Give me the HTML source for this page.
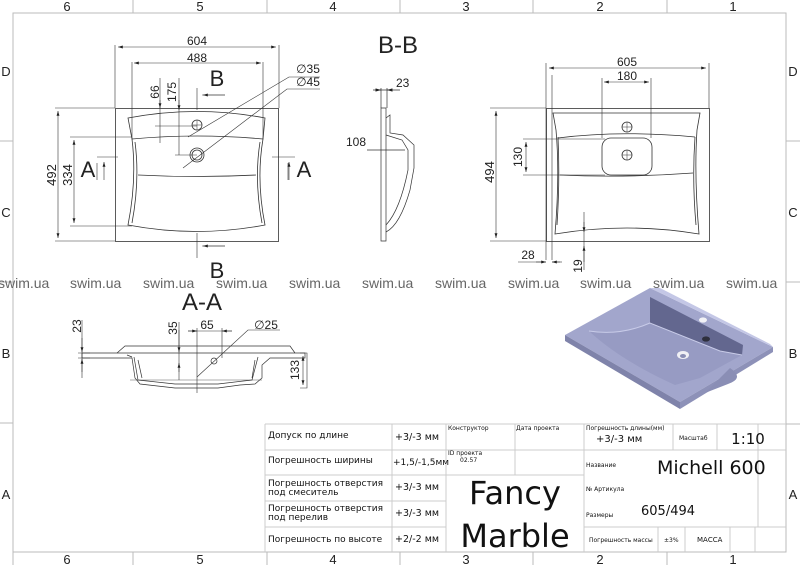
<!DOCTYPE html>
<html><head><meta charset="utf-8"><style>
html,body{margin:0;padding:0;background:#fff;width:800px;height:565px;overflow:hidden}
svg{display:block}
text{font-family:"Liberation Sans","DejaVu Sans",sans-serif;fill:#222}
.t{font-family:"DejaVu Sans","Liberation Sans",sans-serif;fill:#111}
</style></head><body>
<svg width="800" height="565" viewBox="0 0 800 565" xmlns="http://www.w3.org/2000/svg">
<defs>
<marker id="a" viewBox="0 0 10 6" refX="10" refY="3" markerWidth="8" markerHeight="5" orient="auto-start-reverse"><path d="M0,0L10,3L0,6z" fill="#222"/></marker>
</defs>
<g stroke="#bbb" stroke-width="1" fill="none">
<path d="M13,565V13H786V552H13"/>
<path d="M133,0V13M267,0V13M400,0V13M533,0V13M667,0V13"/>
<path d="M133,552V565M267,552V565M400,552V565M533,552V565M667,552V565"/>
<path d="M0,141H13M0,282H13M0,423H13M786,141H800M786,282H800M786,424H800"/>
</g>
<g font-size="13" text-anchor="middle">
<text x="67" y="11">6</text><text x="200" y="11">5</text><text x="333" y="11">4</text><text x="466" y="11">3</text><text x="600" y="11">2</text><text x="733" y="11">1</text>
<text x="67" y="564">6</text><text x="200" y="564">5</text><text x="333" y="564">4</text><text x="466" y="564">3</text><text x="600" y="564">2</text><text x="733" y="564">1</text>
<text x="6" y="76">D</text><text x="6" y="217">C</text><text x="6" y="358">B</text><text x="6" y="499">A</text>
<text x="793" y="76">D</text><text x="793" y="217">C</text><text x="793" y="358">B</text><text x="793" y="499">A</text>
</g>
<g font-size="14" style="fill:#666">
<text x="-2" y="288" style="fill:#666">swim.ua</text><text x="70" y="288" style="fill:#666">swim.ua</text><text x="143" y="288" style="fill:#666">swim.ua</text><text x="216" y="288" style="fill:#666">swim.ua</text><text x="289" y="288" style="fill:#666">swim.ua</text><text x="362" y="288" style="fill:#666">swim.ua</text><text x="435" y="288" style="fill:#666">swim.ua</text><text x="508" y="288" style="fill:#666">swim.ua</text><text x="580" y="288" style="fill:#666">swim.ua</text><text x="653" y="288" style="fill:#666">swim.ua</text><text x="726" y="288" style="fill:#666">swim.ua</text>
</g>

<!-- TOP VIEW -->
<g stroke="#333" stroke-width="0.8" fill="none">
<rect x="115.5" y="108.5" width="163" height="133"/>
<path d="M128,118 Q197,105 265,118 L263,139 Q197,133 132,139 Z"/>
<path d="M132,139 Q137,180 128,225 Q197,238 265,225 Q256,180 263,139"/>
<path d="M135,142 Q140,180 132,223 M260,142 Q254,180 262,223"/>
<path d="M138,175 Q197,178 256,175"/>
<circle cx="197" cy="125" r="5"/><path d="M192,125h10M197,120v10" stroke-width="0.5"/>
<circle cx="197" cy="155" r="7"/><circle cx="197" cy="155" r="5"/>
</g>
<g stroke="#333" stroke-width="0.6" fill="none">
<path d="M115,45V108M279,45V108M132,62V139M263,62V139"/>
<path d="M118,47H276" marker-start="url(#a)" marker-end="url(#a)"/>
<path d="M134,63H261" marker-start="url(#a)" marker-end="url(#a)"/>
<path d="M55,108H115M55,241H115M70,137H132M70,226H132"/>
<path d="M58,111V238" marker-start="url(#a)" marker-end="url(#a)"/>
<path d="M74,140V223" marker-start="url(#a)" marker-end="url(#a)"/>
<path d="M160,78V143M179,78V155M155,126H197M175,155H197"/>
<path d="M160,100V108" marker-end="url(#a)"/><path d="M179,100V110" marker-end="url(#a)"/>
<path d="M188,137L289,77H320M183,168L287,89H320"/>
<path d="M197,88V110M197,233V258M202,95H225M202,246H225"/>
<path d="M225,95H203" marker-end="url(#a)"/><path d="M225,246H203" marker-end="url(#a)"/>
<path d="M97,163V180M288,163V180M97,157H118M272,157H295" />
<path d="M104,180V162" marker-end="url(#a)"/><path d="M289,180V162" marker-end="url(#a)"/>
</g>
<g font-size="12" text-anchor="middle">
<text x="197" y="45">604</text><text x="197" y="62">488</text>
<text x="159" y="92" transform="rotate(-90 159 92)">66</text>
<text x="176" y="92" transform="rotate(-90 176 92)">175</text>
<text x="56" y="175" transform="rotate(-90 56 175)" font-size="13">492</text>
<text x="72" y="175" transform="rotate(-90 72 175)" font-size="13">334</text>
<text x="308" y="73">∅35</text><text x="308" y="86">∅45</text>
</g>
<g font-size="22" text-anchor="middle">
<text x="217" y="86">B</text><text x="217" y="278">B</text>
<text x="88" y="177">A</text><text x="304" y="177">A</text>
<text x="398" y="53" font-size="24">B-B</text>
<text x="202" y="310" font-size="24">A-A</text>
</g>

<!-- B-B section -->
<g stroke="#333" stroke-width="0.7" fill="none">
<path d="M381,108V241H386V108Z"/>
<path d="M386,118L390,115V133L403,135L414,145V168L410,190Q400,225 386,232"/>
<path d="M386,135L402,140L408,150V170Q400,210 386,225"/>
<path d="M373,90H400M381,88V108M387,88V108"/>
<path d="M367,150H405"/>
<path d="M377,90H381" marker-end="url(#a)"/><path d="M392,90H387" marker-end="url(#a)"/>
</g>
<g font-size="12"><text x="396" y="87">23</text><text x="346" y="146">108</text></g>

<!-- RIGHT VIEW -->
<g stroke="#333" stroke-width="0.8" fill="none">
<rect x="546.5" y="108.5" width="163" height="133"/>
<path d="M553,113H700L697,130Q694,175 699,234Q627,222 555,234Q560,175 556,130Z"/>
<path d="M558,137Q560,180 557,225M695,137Q692,180 696,225"/>
<path d="M558,138Q620,130 695,137"/>
<path d="M560,175Q625,178 693,173"/>
<rect x="602" y="138" width="50" height="37" rx="9"/>
<circle cx="627" cy="127" r="5"/><path d="M622,127h10M627,122v10" stroke-width="0.5"/>
<circle cx="627" cy="155" r="5"/><path d="M622,155h10M627,150v10" stroke-width="0.5"/>
</g>
<g stroke="#333" stroke-width="0.6" fill="none">
<path d="M546,63V260M709,63V108M552,75V260M602,78V138M651,78V138"/>
<path d="M549,68H706" marker-start="url(#a)" marker-end="url(#a)"/>
<path d="M604,82H649" marker-start="url(#a)" marker-end="url(#a)"/>
<path d="M490,108H546M490,241H546M523,139H605M523,175H605"/>
<path d="M496,111V238" marker-start="url(#a)" marker-end="url(#a)"/>
<path d="M526,142V172" marker-start="url(#a)" marker-end="url(#a)"/>
<path d="M518,262H546M560,262H552" /><path d="M536,262H546" marker-end="url(#a)"/><path d="M562,262H552" marker-end="url(#a)"/>
<path d="M584,212V270"/><path d="M584,222V232" marker-end="url(#a)"/><path d="M584,262V246" marker-end="url(#a)"/>
</g>
<g font-size="12" text-anchor="middle">
<text x="627" y="66">605</text><text x="627" y="80">180</text>
<text x="494" y="172" transform="rotate(-90 494 172)" font-size="13">494</text>
<text x="522" y="157" transform="rotate(-90 522 157)">130</text>
<text x="528" y="259">28</text>
<text x="582" y="266" transform="rotate(-90 582 266)">19</text>
</g>

<!-- A-A -->
<g stroke="#333" stroke-width="0.7" fill="none">
<path d="M82,353H305V358H270L262,365L262,378L255,384L240,385L218,388L175,388L140,384L135,378L132,358H82Z"/>
<path d="M117,353L125,346H290L295,353"/>
<path d="M127,355L132,357M134,357L138,380L175,384H218L252,380L258,357"/>
<path d="M138,360L142,378M255,360L252,378"/>
<path d="M130,380H262" stroke-width="0.4"/>
<circle cx="214" cy="361" r="3"/>
</g>
<g stroke="#333" stroke-width="0.6" fill="none">
<path d="M82,320V378M78,353H90M78,358H90"/>
<path d="M82,338V352" marker-end="url(#a)"/><path d="M82,372V359" marker-end="url(#a)"/>
<path d="M179,322V380"/><path d="M179,330V352" marker-end="url(#a)"/><path d="M179,372V363" marker-end="url(#a)"/>
<path d="M197,328V393M222,328V358"/>
<path d="M188,331H232"/>
<path d="M188,331H197" marker-end="url(#a)"/><path d="M232,331H222" marker-end="url(#a)"/>
<path d="M197,377L248,330H280"/>
<path d="M300,353H307V388H300"/>
<path d="M303,356V385" marker-start="url(#a)" marker-end="url(#a)"/>
</g>
<g font-size="12" text-anchor="middle">
<text x="81" y="326" transform="rotate(-90 81 326)">23</text>
<text x="177" y="328" transform="rotate(-90 177 328)">35</text>
<text x="207" y="329">65</text><text x="266" y="329">∅25</text>
<text x="299" y="370" transform="rotate(-90 299 370)">133</text>
</g>

<!-- ISO -->
<g stroke="none">
<path d="M565,335L650,288L773,347L680,402Z" fill="#a2a6cc"/>
<path d="M565,335L565,341L680,409L680,402Z" fill="#7f83aa"/>
<path d="M680,402L680,409L773,352L773,347Z" fill="#8d91b8"/>
<path d="M650,288L660,288L770,344L773,347Z" fill="#c4c7e6"/>
<path d="M589,331Q620,336 650,323L650,297L743,345L742,355L700,378L675,385Q620,360 589,331Z" fill="#979bc3"/>
<path d="M650,297L743,345L742,355L720,351L650,323Z" fill="#63678f"/>
<path d="M589,331Q620,336 650,323L720,351L742,355" fill="none" stroke="#c8cbe8" stroke-width="1"/>
<path d="M730,368Q745,378 728,384L705,393Z" fill="#8a8eb5"/>
<ellipse cx="703" cy="320" rx="4" ry="2.6" fill="#f2f2f6"/>
<ellipse cx="706" cy="339" rx="4" ry="2.6" fill="#2e2f3c"/>
<ellipse cx="683" cy="355" rx="6" ry="4" fill="#f0f0f5"/>
<ellipse cx="683" cy="356" rx="3" ry="2" fill="#8a8eb5"/>
</g>

<!-- TITLE BLOCK -->
<g stroke="#ccc" stroke-width="1" fill="none">
<path d="M265,424H786M265,424V552M265,450H584M265,475H584M265,501H446M265,527H446"/>
<path d="M392,424V552M446,424V552M515,424V475M584,424V552"/>
<path d="M446,475H584"/>
<path d="M673,424V450M717,424V450M758,424V450M584,450H786"/>
<path d="M584,527H786M658,527V552M685,527V552M730,527V552M755,527V552"/>
<path d="M758,424V527"/>
</g>
<g font-size="9">
<text class="t" x="268" y="438" font-size="9">Допуск по длине</text>
<text class="t" x="268" y="463" font-size="9">Погрешность ширины</text>
<text class="t" x="268" y="486" font-size="9">Погрешность отверстия</text>
<text class="t" x="268" y="495" font-size="9">под смеситель</text>
<text class="t" x="268" y="511" font-size="9">Погрешность отверстия</text>
<text class="t" x="268" y="520" font-size="9">под перелив</text>
<text class="t" x="268" y="542" font-size="9">Погрешность по высоте</text>
<text class="t" x="395" y="440" font-size="9.5">+3/-3 мм</text>
<text class="t" x="393" y="465" font-size="9">+1,5/-1,5мм</text>
<text class="t" x="395" y="490" font-size="9.5">+3/-3 мм</text>
<text class="t" x="395" y="516" font-size="9.5">+3/-3 мм</text>
<text class="t" x="395" y="542" font-size="9.5">+2/-2 мм</text>
<text class="t" x="448" y="430" font-size="6">Конструктор</text>
<text class="t" x="516" y="430" font-size="6">Дата проекта</text>
<text class="t" x="448" y="455" font-size="6">ID проекта</text>
<text class="t" x="460" y="462" font-size="6">02.57</text>
<text class="t" x="586" y="430" font-size="6">Погрешность длины(мм)</text>
<text class="t" x="596" y="442" font-size="10">+3/-3 мм</text>
<text class="t" x="679" y="440" font-size="6">Масштаб</text>
<text class="t" x="748" y="444" font-size="15" text-anchor="middle">1:10</text>
<text class="t" x="586" y="467" font-size="6">Название</text>
<text class="t" x="657" y="474" font-size="19">Michell 600</text>
<text class="t" x="586" y="491" font-size="6">№ Артикула</text>
<text class="t" x="586" y="517" font-size="6">Размеры</text>
<text class="t" x="641" y="515" font-size="13">605/494</text>
<text class="t" x="589" y="542" font-size="6">Погрешность массы</text>
<text class="t" x="664" y="542" font-size="6">±3%</text>
<text class="t" x="697" y="542" font-size="7">МАССА</text>
<text class="t" x="515" y="504" font-size="32" text-anchor="middle">Fancy</text>
<text class="t" x="515" y="547" font-size="32" text-anchor="middle">Marble</text>
</g>
</svg>
</body></html>
